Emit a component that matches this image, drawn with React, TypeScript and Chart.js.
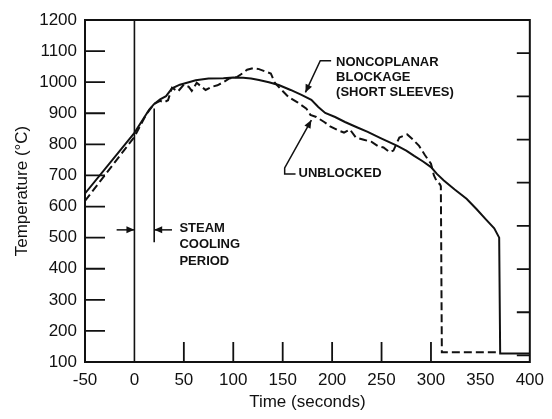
import React, { useEffect, useRef } from 'react';
import { Chart, registerables } from 'chart.js';

Chart.register(...registerables);

// ---------- data ----------
const blockedTime = [-50, 0, 15, 20, 26, 32, 38, 46, 55, 62, 75, 90, 100, 110, 118, 126, 136, 146, 158, 169, 179, 186, 193, 203, 213, 225, 236, 249, 266, 275, 283, 292, 300, 306, 313, 324, 336, 346, 356, 364, 369, 370, 400];
const blockedTemp = [642, 837, 912, 930, 945, 955, 980, 992, 1000, 1006, 1012, 1013, 1015, 1014, 1012, 1007, 1000, 991, 975, 959, 943, 920, 901, 888, 872, 855, 840, 820, 795, 780, 763, 745, 727, 705, 684, 655, 625, 592, 557, 530, 500, 127, 127];

const unblockedTime = [-50, 0, 12, 20, 26, 30, 34, 38, 44, 50, 55, 58, 63, 68, 72, 78, 84, 90, 96, 104, 110, 114, 120, 126, 132, 138, 142, 148, 156, 165, 174, 178, 184, 192, 198, 206, 212, 218, 224, 232, 240, 246, 252, 258, 262, 268, 276, 282, 288, 294, 300, 303, 306, 309, 310, 311, 366];
const unblockedTemp = [618, 824, 897, 930, 940, 935, 942, 982, 970, 992, 985, 972, 998, 985, 975, 985, 990, 1000, 1012, 1017, 1030, 1040, 1045, 1042, 1035, 1028, 998, 978, 952, 935, 915, 895, 888, 872, 858, 845, 838, 848, 822, 815, 808, 795, 790, 775, 780, 822, 832, 815, 795, 765, 738, 700, 680, 672, 665, 131, 131];

const zeroLineTime = [0, 0];
const zeroLineTemp = [100, 1200];
const steamEndTime = [20, 20];
const steamEndTemp = [915, 485];

const timeTicks = [-50, 0, 50, 100, 150, 200, 250, 300, 350, 400];
const tempTicks = [100, 200, 300, 400, 500, 600, 700, 800, 900, 1000, 1100, 1200];
const fahrenheitTicks = [250, 500, 750, 1000, 1250, 1500, 1750, 2000];
const innerTimeTicks = [50, 100, 150, 200, 250, 300];

const blockageLabel = ['NONCOPLANAR', 'BLOCKAGE', '(SHORT SLEEVES)'];
const unblockedLabel = ['UNBLOCKED'];
const steamLabel = ['STEAM', 'COOLING', 'PERIOD'];

const INK = '#111';
const FONT = "'Liberation Sans', Arial, Helvetica, sans-serif";

const zip = (xs: number[], ys: number[]) => xs.map((x, i) => ({ x, y: ys[i] }));

function arrowPath(ctx: CanvasRenderingContext2D, pts: number[][], head = 8, half = 3.5) {
  ctx.beginPath();
  ctx.moveTo(pts[0][0], pts[0][1]);
  for (let i = 1; i < pts.length; i++) ctx.lineTo(pts[i][0], pts[i][1]);
  ctx.stroke();
  const [x1, y1] = pts[pts.length - 2];
  const [x2, y2] = pts[pts.length - 1];
  const a = Math.atan2(y2 - y1, x2 - x1);
  const c = Math.cos(a), s = Math.sin(a);
  ctx.beginPath();
  ctx.moveTo(x2, y2);
  ctx.lineTo(x2 - head * c + half * s, y2 - head * s - half * c);
  ctx.lineTo(x2 - head * c - half * s, y2 - head * s + half * c);
  ctx.closePath();
  ctx.fill();
}

const framePlugin = {
  id: 'frameAndNotes',
  afterDraw(chart: any) {
    const { ctx, chartArea: a, scales } = chart;
    const sx = scales.x, sy = scales.y, sf = scales.y2;
    const X = (v: number) => sx.getPixelForValue(v);
    const Y = (v: number) => sy.getPixelForValue(v);
    ctx.save();
    ctx.strokeStyle = INK;
    ctx.fillStyle = INK;
    ctx.lineWidth = 2;
    ctx.strokeRect(a.left, a.top, a.right - a.left, a.bottom - a.top);

    ctx.lineWidth = 1.8;
    ctx.beginPath();
    sy.ticks.forEach((t: any) => {
      if (t.value > sy.min && t.value < sy.max) {
        const p = Y(t.value);
        ctx.moveTo(a.left, p);
        ctx.lineTo(a.left + 20, p);
      }
    });
    innerTimeTicks.forEach((v) => {
      const p = X(v);
      ctx.moveTo(p, a.bottom);
      ctx.lineTo(p, a.bottom - 20);
    });
    sf.ticks.forEach((t: any) => {
      const p = sf.getPixelForValue(t.value);
      ctx.moveTo(a.right, p);
      ctx.lineTo(a.right - 13, p);
    });
    ctx.stroke();

    // annotations
    ctx.font = `bold 13px ${FONT}`;
    ctx.textBaseline = 'middle';
    ctx.textAlign = 'left';
    const drawLines = (lines: string[], tx: number, ty: number, gap: number) => {
      lines.forEach((l, i) => ctx.fillText(l, X(tx), Y(ty) + i * gap));
    };
    drawLines(blockageLabel, 204, 1064, 15);
    drawLines(unblockedLabel, 166, 706, 15);
    drawLines(steamLabel, 45.5, 531, 16.5);

    ctx.lineWidth = 1.5;
    arrowPath(ctx, [[X(199), Y(1069)], [X(188), Y(1069)], [X(173), Y(967)]]);
    arrowPath(ctx, [[X(163), Y(705)], [X(152), Y(705)], [X(152), Y(724)], [X(179), Y(878)]]);
    arrowPath(ctx, [[X(-18), Y(525)], [X(0), Y(525)]], 8, 3.5);
    arrowPath(ctx, [[X(38), Y(525)], [X(20), Y(525)]], 8, 3.5);
    ctx.restore();
  },
};

export default function App() {
  const ref = useRef<HTMLCanvasElement | null>(null);
  useEffect(() => {
    if (!ref.current) return;
    const tickFont = { family: FONT, size: 17 };
    const plain = (v: any) => String(v);
    const chart = new Chart(ref.current, {
      type: 'line',
      data: {
        datasets: [
          { label: 'Noncoplanar blockage', data: zip(blockedTime, blockedTemp), borderColor: INK, borderWidth: 2, pointRadius: 0, tension: 0, yAxisID: 'y' },
          { label: 'Unblocked', data: zip(unblockedTime, unblockedTemp), borderColor: INK, borderWidth: 2, borderDash: [8, 4], pointRadius: 0, tension: 0, yAxisID: 'y' },
          { label: 'zero', data: zip(zeroLineTime, zeroLineTemp), borderColor: INK, borderWidth: 1.6, pointRadius: 0, yAxisID: 'y' },
          { label: 'steam end', data: zip(steamEndTime, steamEndTemp), borderColor: INK, borderWidth: 1.6, pointRadius: 0, yAxisID: 'y' },
        ],
      },
      options: {
        responsive: false,
        animation: false,
        devicePixelRatio: 1,
        layout: { padding: { top: 20, left: 0, right: 0, bottom: 0 } },
        plugins: { legend: { display: false }, tooltip: { enabled: false } },
        scales: {
          x: {
            type: 'linear',
            min: -50,
            max: 400,
            afterBuildTicks: (s: any) => { s.ticks = timeTicks.map((v) => ({ value: v })); },
            afterFit: (s: any) => { s.height = 57; },
            grid: { display: false, drawTicks: false },
            border: { display: false },
            ticks: { font: tickFont, color: INK, padding: 8, maxRotation: 0, autoSkip: false, callback: plain },
            title: { display: true, text: 'Time (seconds)', font: tickFont, color: INK, padding: { top: 0, bottom: 6 } },
          },
          y: {
            type: 'linear',
            position: 'left',
            min: 100,
            max: 1200,
            afterBuildTicks: (s: any) => { s.ticks = tempTicks.map((v) => ({ value: v })); },
            afterFit: (s: any) => { s.width = 85; },
            grid: { display: false, drawTicks: false },
            border: { display: false },
            ticks: { font: tickFont, color: INK, padding: 8, autoSkip: false, callback: plain },
            title: { display: true, text: 'Temperature (°C)', font: tickFont, color: INK, padding: { top: 12, bottom: 0 } },
          },
          y2: {
            type: 'linear',
            position: 'right',
            min: 100 * 1.8 + 32,
            max: 1200 * 1.8 + 32,
            afterBuildTicks: (s: any) => { s.ticks = fahrenheitTicks.map((v) => ({ value: v })); },
            afterFit: (s: any) => { s.width = 19; },
            grid: { display: false, drawTicks: false },
            border: { display: false },
            ticks: { display: false },
          },
        },
      } as any,
      plugins: [framePlugin],
    });
    return () => chart.destroy();
  }, []);
  return (
    <div style={{ position: 'fixed', left: 0, top: 0, width: 552, height: 419, background: '#fff' }}>
      <canvas ref={ref} width={552} height={419} style={{ width: 552, height: 419, display: 'block' }} />
    </div>
  );
}
